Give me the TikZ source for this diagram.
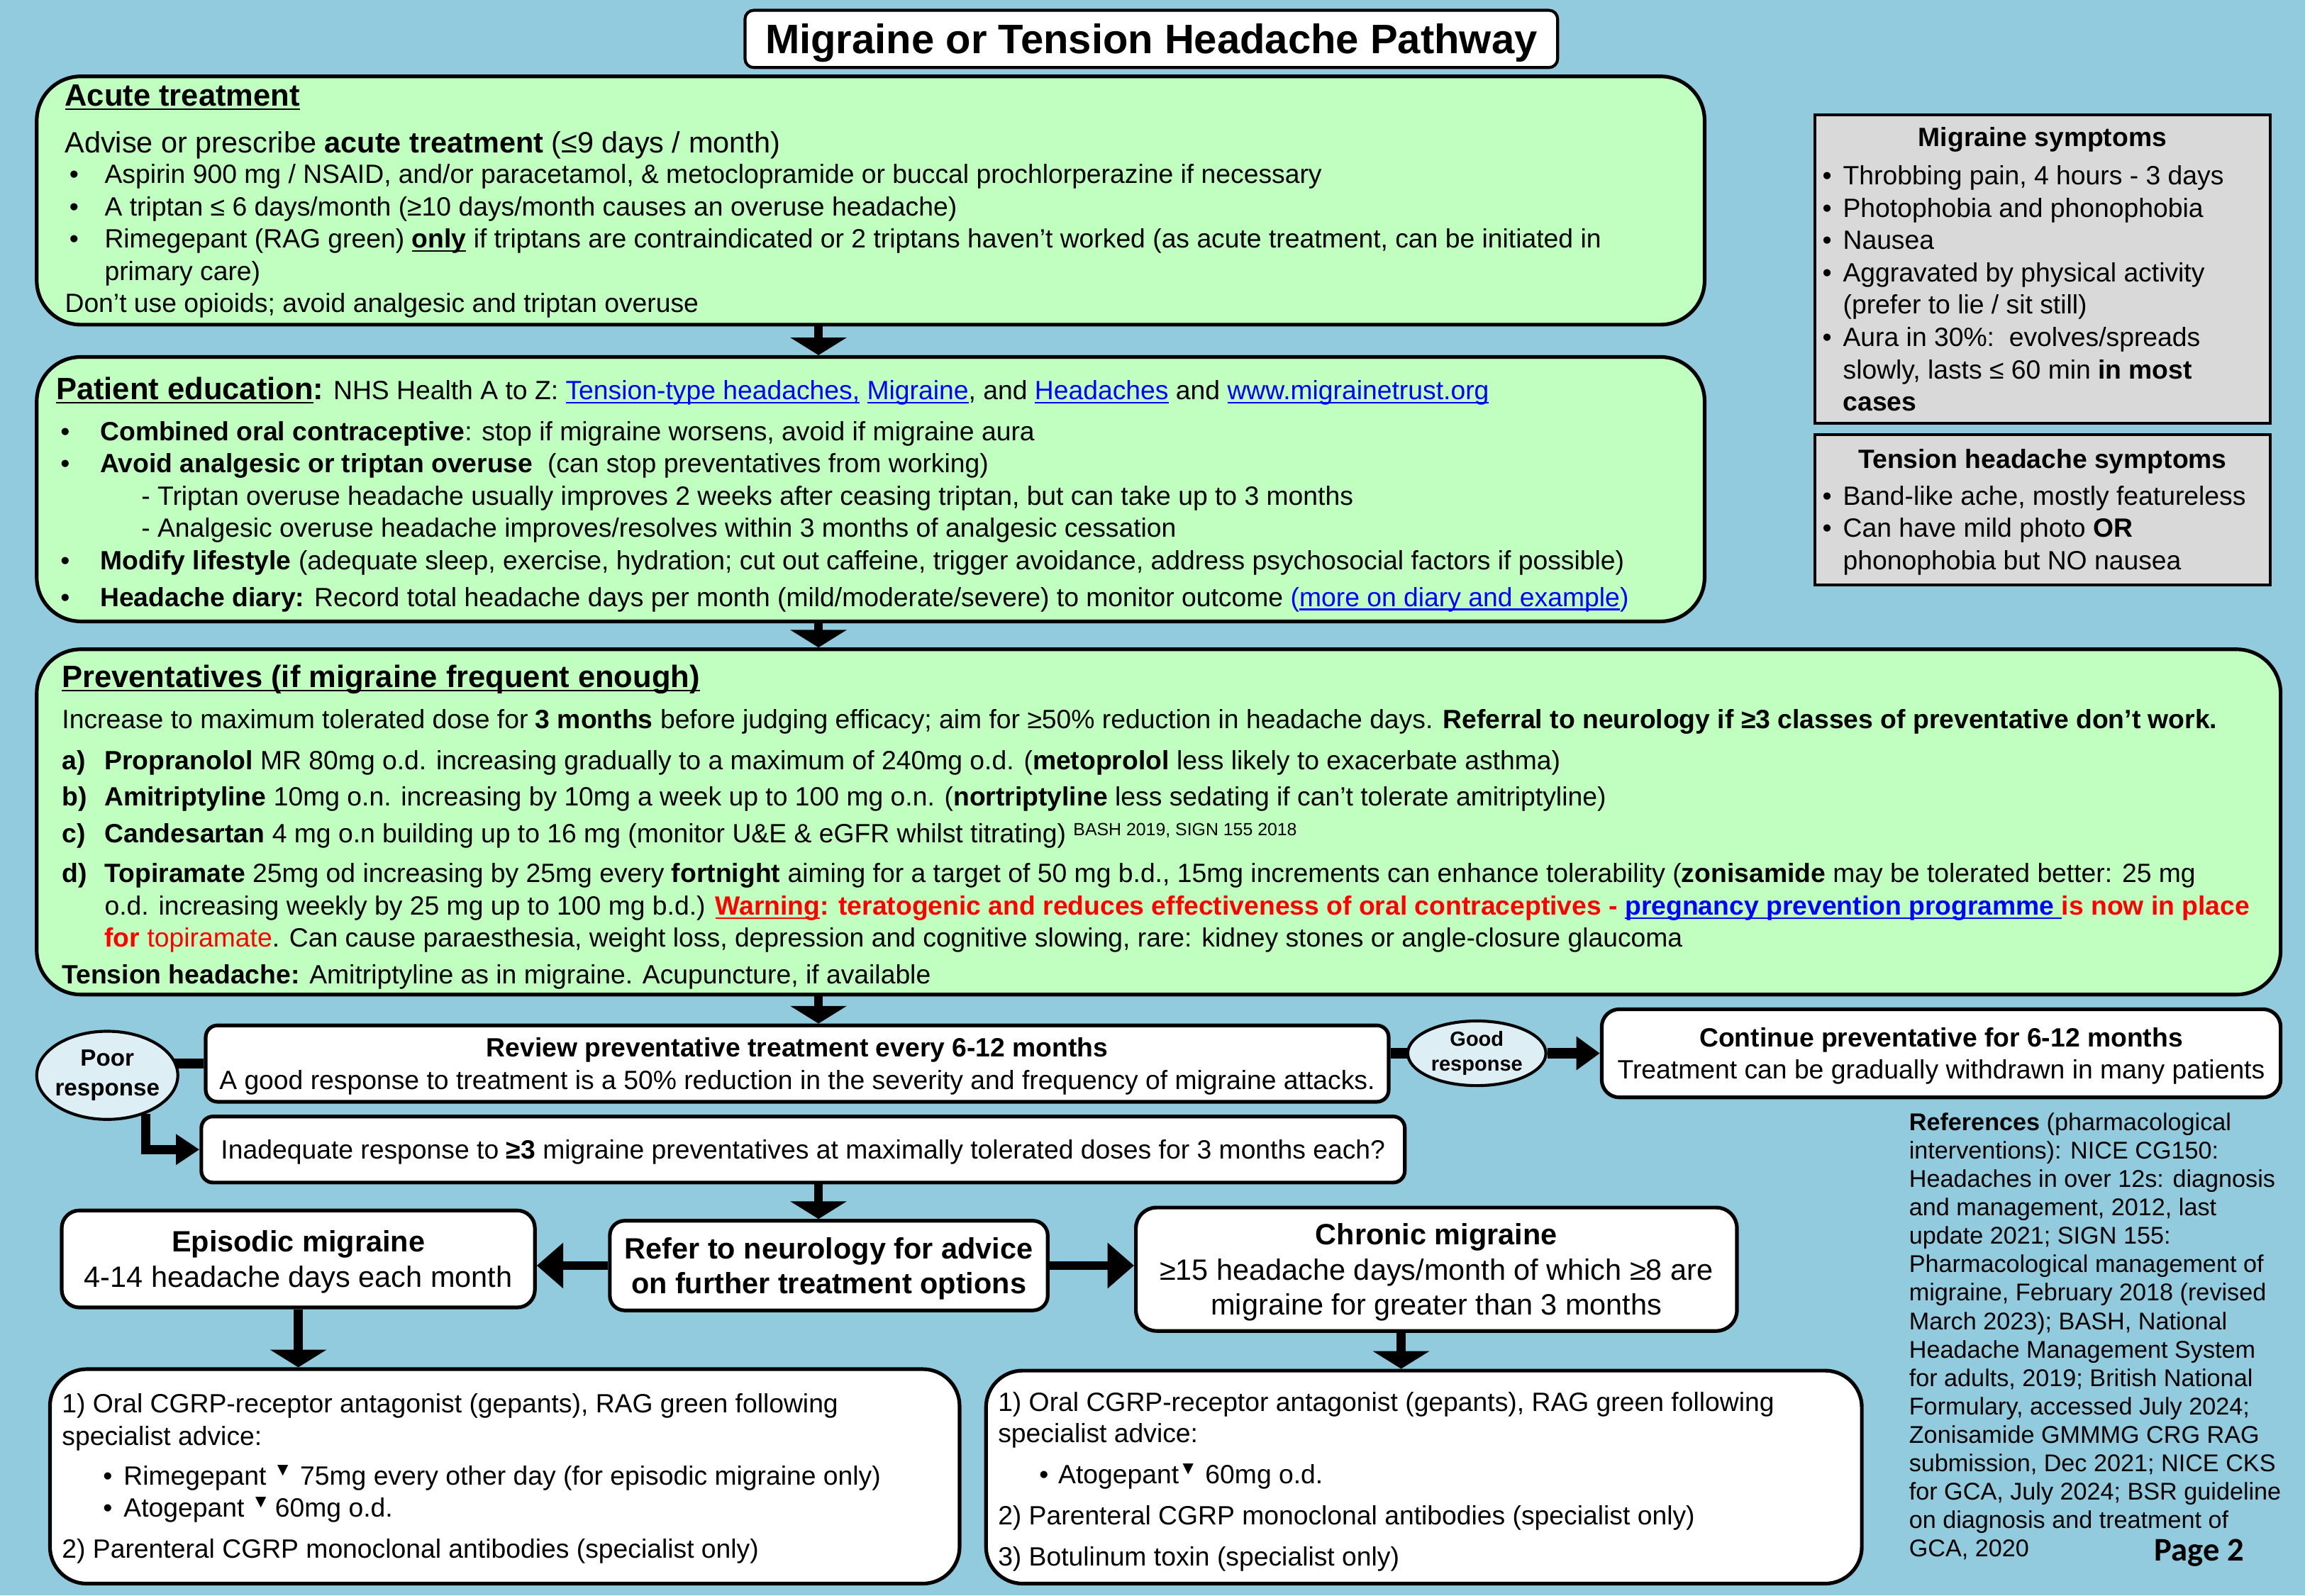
\documentclass[tikz,border=0pt]{standalone}
\usepackage{fontspec}
\setmainfont{Liberation Sans}
\newfontfamily\pagefont{Carlito}
\usetikzlibrary{arrows.meta,shapes.geometric}
\definecolor{bgblue}{RGB}{146,203,221}
\definecolor{boxgreen}{RGB}{192,255,192}
\definecolor{boxgray}{RGB}{217,217,217}
\definecolor{ovalblue}{RGB}{221,238,244}
\definecolor{linkblue}{RGB}{0,0,255}
\pgfdeclarelayer{bg}
\pgfdeclarelayer{lines}
\pgfsetlayers{bg,lines,main}
\newsavebox{\ulbox}
\newcommand{\uln}[1]{\sbox{\ulbox}{#1}\rlap{\rule[-2.8pt]{\wd\ulbox}{1.2pt}}\usebox{\ulbox}}
\newcommand{\fs}[2]{\fontsize{#1}{#2}\selectfont}
\newcommand{\itm}[2]{\makebox[#1][l]{#2}}
\newcommand{\lnk}[1]{{\color{linkblue}\uln{#1}}}
\newcommand{\bt}{\textsuperscript{▼}}
\tikzset{
  every node/.style={inner sep=0pt},
  txt/.style={anchor=north west,align=left,yshift=-1.5pt,font=\fs{18}{22}},
  greenbox/.style={draw,line width=2.5pt,fill=boxgreen,rounded corners=30pt},
  whitebox/.style={draw,line width=2.5pt,fill=white,rounded corners=10pt,align=center,text depth=-5pt,font=\fs{18}{22}},
  graybox/.style={draw,line width=2pt,fill=boxgray},
  oval/.style={ellipse,draw,line width=2pt,fill=ovalblue,align=center,inner sep=-4pt},
  flow/.style={line width=6pt,-{Triangle[width=38pt,length=12pt]}},
  bar/.style={line width=7pt},
}
\begin{document}
\begin{tikzpicture}[x=1pt,y=-1pt]
\begin{pgfonlayer}{bg}
\fill[bgblue] (0,0) rectangle (1568.6,1086);
\end{pgfonlayer}
\useasboundingbox (0,0) rectangle (1568.6,1086);
\coordinate (spine) at (557,0);
% title
\node[whitebox,rounded corners=6pt,line width=2pt,minimum width=553pt,minimum height=39pt,text depth=0pt,font=\bfseries\fs{28}{32}] (title) at (783.5,26.5) {Migraine or Tension Headache Pathway};
% acute treatment
\node[greenbox,minimum width=1135pt,minimum height=169pt] (acute) at (592.5,136.5) {};
\node[txt,font=\bfseries\fs{21}{24}] (acutehead) at (44,56) {\uln{Acute treatment}};
\node[txt,font=\fs{20}{22}] (acuteintro) at (44,88) {Advise or prescribe \textbf{acute treatment} (≤9 days / month)};
\node[txt] (acutelist) at (47,110) {\itm{24pt}{•}Aspirin 900 mg / NSAID, and/or paracetamol, \& metoclopramide or buccal prochlorperazine if necessary\\
\itm{24pt}{•}A triptan ≤ 6 days/month (≥10 days/month causes an overuse headache)\\
\itm{24pt}{•}Rimegepant (RAG green) \textbf{\uln{only}} if triptans are contraindicated or 2 triptans haven’t worked (as acute treatment, can be initiated in\\
\itm{24pt}{}primary care)\\
\hspace*{-3pt}Don’t use opioids; avoid analgesic and triptan overuse};
% patient education
\node[greenbox,minimum width=1135pt,minimum height=180pt] (edu) at (592.5,333) {};
\node[txt] (eduhead) at (38,255) {{\fs{21}{24}\textbf{\uln{Patient education}:}} NHS Health A to Z: \lnk{Tension-type headaches,} \lnk{Migraine}, and \lnk{Headaches} and \lnk{www.migrainetrust.org}};
\node[txt] (edulist) at (41,285) {\itm{27pt}{•}\textbf{Combined oral contraceptive}: stop if migraine worsens, avoid if migraine aura\\
\itm{27pt}{•}\textbf{Avoid analgesic or triptan overuse}~ (can stop preventatives from working)\\
\itm{55pt}{}- Triptan overuse headache usually improves 2 weeks after ceasing triptan, but can take up to 3 months\\
\itm{55pt}{}- Analgesic overuse headache improves/resolves within 3 months of analgesic cessation\\
\itm{27pt}{•}\textbf{Modify lifestyle} (adequate sleep, exercise, hydration; cut out caffeine, trigger avoidance, address psychosocial factors if possible)\\[3pt]
\itm{27pt}{•}\textbf{Headache diary:} Record total headache days per month (mild/moderate/severe) to monitor outcome {\color{linkblue}(\uln{more on diary and example})}};
% preventatives
\node[greenbox,minimum width=1527pt,minimum height=235pt] (prev) at (788.5,559.5) {};
\node[txt,font=\bfseries\fs{21}{24}] (prevhead) at (42,451) {\uln{Preventatives (if migraine frequent enough)}};
\node[txt] (previntro) at (42,481) {Increase to maximum tolerated dose for \textbf{3 months} before judging efficacy; aim for ≥50\% reduction in headache days. \textbf{Referral to neurology if ≥3 classes of preventative don’t work.}};
\node[txt] (prevlist) at (42,509) {\itm{29pt}{\textbf{a)}}\textbf{Propranolol} MR 80mg o.d. increasing gradually to a maximum of 240mg o.d. (\textbf{metoprolol} less likely to exacerbate asthma)\\[3pt]
\itm{29pt}{\textbf{b)}}\textbf{Amitriptyline} 10mg o.n. increasing by 10mg a week up to 100 mg o.n. (\textbf{nortriptyline} less sedating if can’t tolerate amitriptyline)\\[3pt]
\itm{29pt}{\textbf{c)}}\textbf{Candesartan} 4 mg o.n building up to 16 mg (monitor U\&E \& eGFR whilst titrating) {\fs{12}{13}\raisebox{5pt}{BASH 2019, SIGN 155 2018}}\\[5pt]
\itm{29pt}{\textbf{d)}}\textbf{Topiramate} 25mg od increasing by 25mg every \textbf{fortnight} aiming for a target of 50 mg b.d., 15mg increments can enhance tolerability (\textbf{zonisamide} may be tolerated better: 25 mg\\
\itm{29pt}{}o.d. increasing weekly by 25 mg up to 100 mg b.d.) {\color{red}\textbf{\uln{Warning}: teratogenic and reduces effectiveness of oral contraceptives - }}\lnk{\textbf{pregnancy prevention programme }}{\color{red}\textbf{is now in place}}\\
\itm{29pt}{}{\color{red}\textbf{for} topiramate}. Can cause paraesthesia, weight loss, depression and cognitive slowing, rare: kidney stones or angle-closure glaucoma};
\node[txt] (prevtension) at (42,655) {\textbf{Tension headache:} Amitriptyline as in migraine. Acupuncture, if available};
% symptoms
\node[graybox,minimum width=310pt,minimum height=210pt] (migsym) at (1390,183) {};
\node[anchor=north,yshift=-1.5pt,font=\bfseries\fs{18}{22}] (migsymhead) at (1390,85) {Migraine symptoms};
\node[txt] (migsymlist) at (1240,111) {\itm{14pt}{•}Throbbing pain, 4 hours - 3 days\\
\itm{14pt}{•}Photophobia and phonophobia\\
\itm{14pt}{•}Nausea\\
\itm{14pt}{•}Aggravated by physical activity\\
\itm{14pt}{}(prefer to lie / sit still)\\
\itm{14pt}{•}Aura in 30\%:\ \ evolves/spreads\\
\itm{14pt}{}slowly, lasts ≤ 60 min \textbf{in most}\\
\itm{14pt}{}\textbf{cases}};
\node[graybox,minimum width=310pt,minimum height=102pt] (tensym) at (1390,347) {};
\node[anchor=north,yshift=-1.5pt,font=\bfseries\fs{18}{22}] (tensymhead) at (1390,304) {Tension headache symptoms};
\node[txt] (tensymlist) at (1240,329) {\itm{14pt}{•}Band-like ache, mostly featureless\\
\itm{14pt}{•}Can have mild photo \textbf{OR}\\
\itm{14pt}{}phonophobia but NO nausea};
% review and responses
\node[whitebox,rounded corners=8pt,minimum width=805pt,minimum height=52pt] (review) at (542.5,724) {\textbf{Review preventative treatment every 6-12 months}\\A good response to treatment is a 50\% reduction in the severity and frequency of migraine attacks.};
\node[oval,minimum width=96pt,minimum height=60pt,font=\bfseries\fs{16}{20}] (poor) at (73,732) {Poor\\response};
\node[oval,minimum width=94pt,minimum height=44pt,font=\bfseries\fs{14}{17}] (good) at (1005,717) {Good\\response};
\node[whitebox,rounded corners=12pt,minimum width=462pt,minimum height=60pt] (cont) at (1321,717) {\textbf{Continue preventative for 6-12 months}\\Treatment can be gradually withdrawn in many patients};
\node[whitebox,rounded corners=8pt,minimum width=819pt,minimum height=45pt] (inadequate) at (546.5,782.5) {Inadequate response to \textbf{≥3} migraine preventatives at maximally tolerated doses for 3 months each?};
% neurology and migraine types
\node[whitebox,minimum width=298pt,minimum height=61pt,font=\bfseries\fs{20}{24}] (refer) at (564,861.5) {Refer to neurology for advice\\on further treatment options};
\node[whitebox,rounded corners=12pt,minimum width=322pt,minimum height=66pt,font=\fs{20}{24}] (episodic) at (203,857) {\textbf{Episodic migraine}\\4-14 headache days each month};
\node[whitebox,rounded corners=14pt,minimum width=409pt,minimum height=84pt,font=\fs{20}{24}] (chronic) at (977.5,864) {\textbf{Chronic migraine}\\≥15 headache days/month of which ≥8 are\\migraine for greater than 3 months};
\node[whitebox,rounded corners=25pt,minimum width=619pt,minimum height=146pt] (leftbox) at (343.5,1005) {};
\node[txt] (lefttext) at (42,947) {1) Oral CGRP-receptor antagonist (gepants), RAG green following\\
specialist advice:\\[5pt]
\hspace*{28pt}\itm{14pt}{•}Rimegepant \bt\ 75mg every other day (for episodic migraine only)\\
\hspace*{28pt}\itm{14pt}{•}Atogepant \bt\,60mg o.d.\\[6pt]
2) Parenteral CGRP monoclonal antibodies (specialist only)};
\node[whitebox,rounded corners=25pt,minimum width=596pt,minimum height=145pt] (rightbox) at (969,1005.5) {};
\node[txt] (righttext) at (679,946) {1) Oral CGRP-receptor antagonist (gepants), RAG green following\\[-1pt]
specialist advice:\\[6pt]
\hspace*{28pt}\itm{13pt}{•}Atogepant\bt\ 60mg o.d.\\[6pt]
2) Parenteral CGRP monoclonal antibodies (specialist only)\\[6pt]
3) Botulinum toxin (specialist only)};
% references
\node[txt,font=\fs{16.5}{19.33}] (refs) at (1299,756) {\textbf{References} (pharmacological\\
interventions): NICE CG150:\\
Headaches in over 12s: diagnosis\\
and management, 2012, last\\
update 2021; SIGN 155:\\
Pharmacological management of\\
migraine, February 2018 (revised\\
March 2023); BASH, National\\
Headache Management System\\
for adults, 2019; British National\\
Formulary, accessed July 2024;\\
Zonisamide GMMMG CRG RAG\\
submission, Dec 2021; NICE CKS\\
for GCA, July 2024; BSR guideline\\
on diagnosis and treatment of\\
GCA, 2020};
\node[txt,font=\pagefont\bfseries\fs{22.5}{24}] (page) at (1466,1046) {Page 2};
% connectors
\begin{pgfonlayer}{lines}
\draw[flow] (acute.south -| spine) -- (edu.north -| spine);
\draw[flow] (edu.south -| spine) -- (prev.north -| spine);
\draw[flow] (prev.south -| spine) -- (review.north -| spine);
\draw[flow] (inadequate.south -| spine) -- (refer.north -| spine);
\draw[bar] (review.west) -- (review.west -| poor.center);
\draw[bar,line width=6pt,-{Triangle[width=20pt,length=16pt]}] (poor.-45) |- (inadequate.west);
\draw[bar] (review.east |- good.center) -- (good.center);
\draw[bar,-{Triangle[width=22pt,length=16pt]}] (good.east) -- (good.east -| cont.west);
\draw[bar,line width=6pt,-{Triangle[width=30pt,length=18pt]}] (refer.west) -- (refer.west -| episodic.east);
\draw[bar,line width=6pt,-{Triangle[width=30pt,length=18pt]}] (refer.east) -- (refer.east -| chronic.west);
\draw[flow] (episodic.south) -- (episodic.south |- leftbox.north);
\draw[flow] ([xshift=-24pt]chronic.south) -- ([xshift=-24pt]chronic.south |- rightbox.north);
\end{pgfonlayer}
\end{tikzpicture}
\end{document}
